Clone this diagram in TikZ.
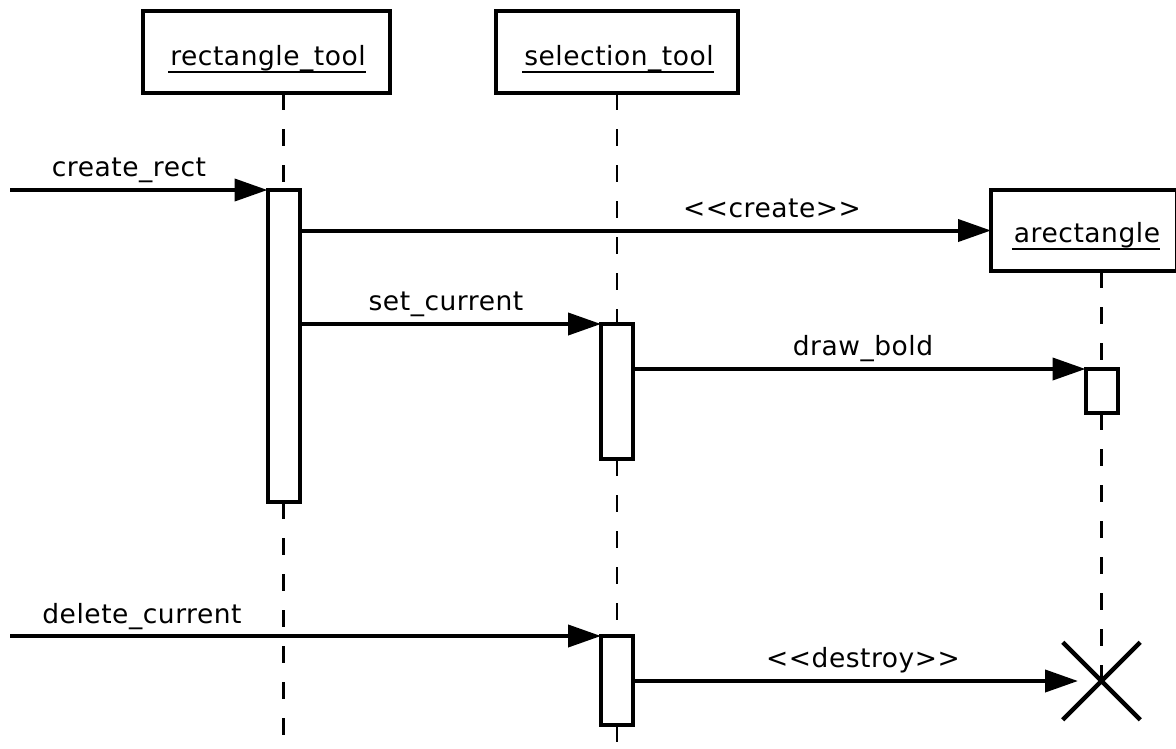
\documentclass[tikz,border=0pt]{standalone}
\usepackage{fontspec}
\setmainfont{DejaVu Sans}[LetterSpace=2]
\usetikzlibrary{arrows.meta,shapes.misc}

\begin{document}
\begin{tikzpicture}[x=1pt, y=-1pt, >={Triangle[length=33pt,width=22pt]},
	font=\fontsize{26.5}{32}\selectfont,
	obj/.style={draw, line width=4.5pt, minimum width=#1, minimum height=82pt, inner sep=0pt, outer sep=0pt},
	act/.style={draw, fill=white, line width=4pt, minimum width=32pt, minimum height=#1, inner sep=0pt, outer sep=0pt},
	life/.style={line width=2.5pt, dash pattern=on 17pt off 19pt},
	msg/.style={line width=4pt, ->},
	lbl/.style={anchor=base, inner sep=0pt},
	uline/.style={line width=2pt}]
	\clip (0,0) rectangle (1176,748);
	\node [obj=247] (rtbox) at (266.5,52) {};
	\node [obj=242] (stbox) at (617,52) {};
	\node [obj=186, minimum height=81pt] (arbox) at (1084,230.5) {};
	\node [lbl] (rt) at (268,65) {rectangle\_tool};
	\node [lbl] (st) at (619,65) {selection\_tool};
	\node [lbl] (ar) at (1087,242) {arectangle};
	\draw [uline] ([xshift=-2,yshift=-7]rt.base west) -- ([yshift=-7]rt.base east);
	\draw [uline] ([xshift=-2,yshift=-7]st.base west) -- ([yshift=-7]st.base east);
	\draw [uline] ([xshift=-2,yshift=-7]ar.base west) -- ([yshift=-7]ar.base east);
	\node [act=312] (a1) at (283.5,346) {};
	\node [act=135] (a2) at (617,391.5) {};
	\node [act=44] (a3) at (1101.5,391) {};
	\node [act=89] (a4) at (617,680.5) {};
	\node [draw, cross out, line width=4.5pt, minimum size=73pt] (kill) at (1101.5,681) {};
	\draw [life] (a1 |- rtbox.south) -- (a1.north) (a1.south) -- (a1 |- 0,748);
	\draw [life] (a2 |- stbox.south) -- (a2.north) (a2.south) -- (a4.north) (a4.south) -- (a4 |- 0,748);
	\draw [life] (a3 |- arbox.south) -- (a3.north) (a3.south) -- (kill.center);
	\coordinate (in1) at (10,190);
	\coordinate (in2) at (10,636);
	\draw [msg] (in1) -- (a1.north west);
	\draw [msg] (a1.east |- arbox.west) -- (arbox.west);
	\draw [msg] (a1.east |- a2.north west) -- (a2.north west);
	\draw [msg] (a2.east |- a3.north west) -- (a3.north west);
	\draw [msg] (in2) -- (a4.north west);
	\draw [msg, shorten >=23.5pt] (a4.east |- kill.center) -- (kill.center);
	\node [lbl] (lrect) at (129,176) {create\_rect};
	\node [lbl] (lcreate) at (772,217) {<{}<create>{}>};
	\node [lbl] (lset) at (446,310) {set\_current};
	\node [lbl] (lbold) at (863,355) {draw\_bold};
	\node [lbl] (ldel) at (142,623) {delete\_current};
	\node [lbl] (ldestroy) at (863,667) {<{}<destroy>{}>};
\end{tikzpicture}
\end{document}
